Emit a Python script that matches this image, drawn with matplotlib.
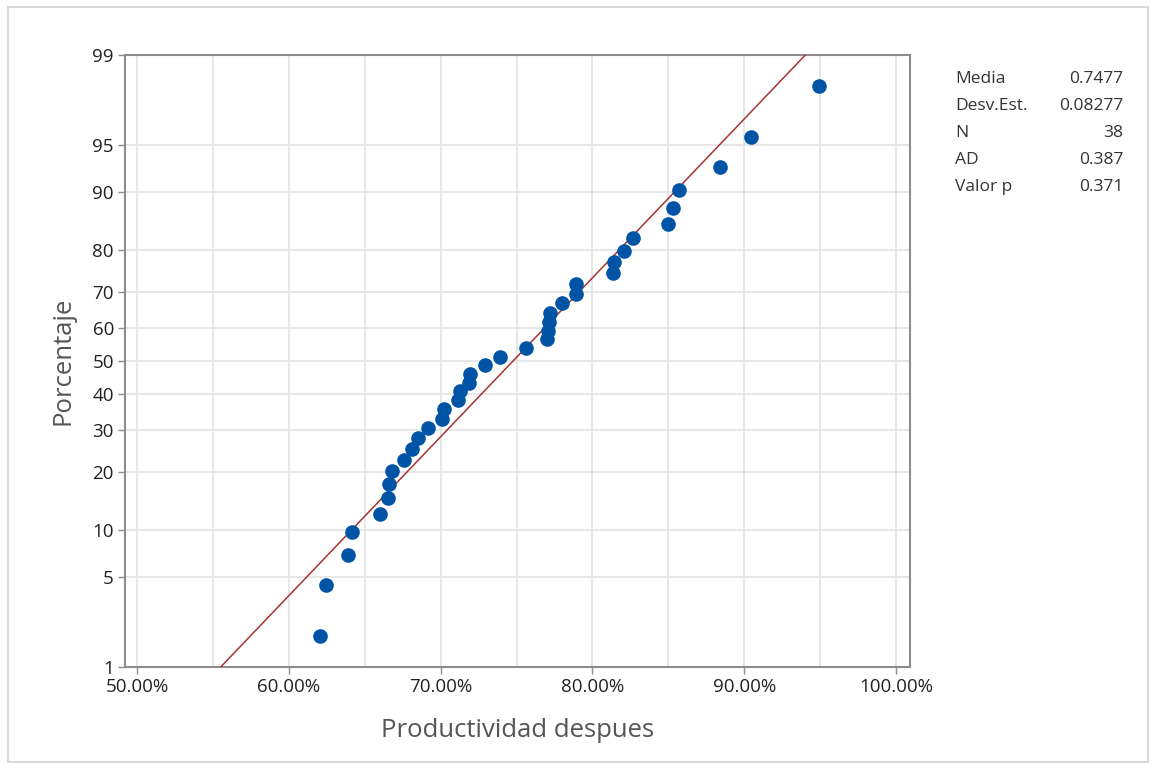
import matplotlib
matplotlib.use("Agg")
import matplotlib.pyplot as plt
from matplotlib.patches import Rectangle
from statistics import NormalDist
import numpy as np

# productividad despues, ordenada
productividad = [0.6206, 0.6245, 0.6390, 0.6416, 0.6600, 0.6653, 0.6660, 0.6680,
                 0.6760, 0.6810, 0.6850, 0.6920, 0.7010, 0.7020, 0.7115, 0.7130,
                 0.7190, 0.7195, 0.7290, 0.7390, 0.7560, 0.7700, 0.7707, 0.7715,
                 0.7720, 0.7800, 0.7890, 0.7892, 0.8136, 0.8140, 0.8210, 0.8270,
                 0.8500, 0.8530, 0.8570, 0.8840, 0.9045, 0.9490]
media = 0.7477
desv = 0.08277
stat_names = ["Media", "Desv.Est.", "N", "AD", "Valor p"]
stat_vals = ["0.7477", "0.08277", "38", "0.387", "0.371"]
y_ticks = [1, 5, 10, 20, 30, 40, 50, 60, 70, 80, 90, 95, 99]
x_ticks = [0.5, 0.6, 0.7, 0.8, 0.9, 1.0]

nd = NormalDist()
n = len(productividad)
# posiciones de Minitab (rango mediano)
z_pts = [nd.inv_cdf((i - 0.3) / (n + 0.4)) for i in range(1, n + 1)]
z_lo, z_hi = nd.inv_cdf(0.01), nd.inv_cdf(0.99)

plt.rcParams['font.family'] = ['Open Sans', 'DejaVu Sans']

fig = plt.figure(figsize=(11.55, 7.67), dpi=100)
fig.patches.append(Rectangle((8 / 1155, 5 / 767), 1140 / 1155, 755 / 767,
                             transform=fig.transFigure, fill=False,
                             edgecolor='#d9d9d9', lw=1.5))
ax = fig.add_axes([125 / 1155, 100 / 767, 785 / 1155, 612 / 767])

# linea ajustada
zl = np.array([z_lo, z_hi])
ax.plot(media + desv * zl, zl, color='#a83232', lw=1.1, zorder=3)
ax.plot(productividad, z_pts, 'o', color='#0054a6', ms=9.5, mec='#0054a6', zorder=4)

ax.set_ylim(z_lo, z_hi)
ax.set_xlim(0.4921, 1.0092)
ax.set_yticks([nd.inv_cdf(p / 100) for p in y_ticks])
ax.set_yticklabels([str(p) for p in y_ticks])
ax.set_xticks(x_ticks)
ax.set_xticklabels([f"{v * 100:.2f}%" for v in x_ticks])
ax.set_xticks(np.arange(0.55, 1.0, 0.1), minor=True)
ax.tick_params(axis='x', which='minor', length=0)

ax.grid(True, which='both', color='#e3e3e3', lw=1.2)
ax.set_axisbelow(True)
for s in ax.spines.values():
    s.set_color('#8c8c8c')
    s.set_linewidth(1.5)
ax.tick_params(which='major', length=5, width=1, color='#8c8c8c',
               labelsize=13.5, labelcolor='#222222', pad=3)

ax.set_xlabel("Productividad despues", fontsize=18.5, color='#555555', labelpad=16)
ax.set_ylabel("Porcentaje", fontsize=18.5, color='#555555', labelpad=12)

for k, (nm, v) in enumerate(zip(stat_names, stat_vals)):
    y = 1 - (79 + k * 27) / 767
    fig.text(955 / 1155, y, nm, fontsize=12.5, color='#333333', va='center')
    fig.text(1123 / 1155, y, v, fontsize=12.5, color='#333333', va='center', ha='right')

fig.savefig("out.png", dpi=100)
